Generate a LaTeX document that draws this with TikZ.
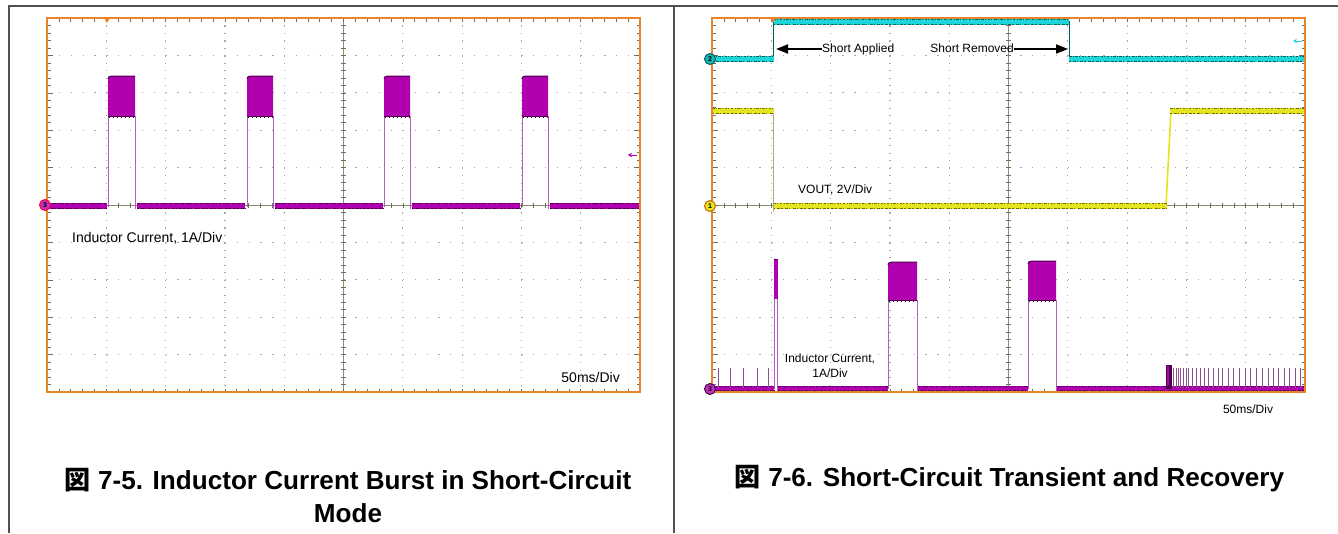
\documentclass[tikz,border=0pt]{standalone}
\usepackage{fontspec}
\setmainfont{Liberation Sans}
\newfontfamily\cjk{Noto Sans CJK JP}
\usetikzlibrary{arrows.meta}
\definecolor{gridc}{HTML}{A8A8A8}
\definecolor{tickc}{HTML}{6E6E5A}
\definecolor{ctrc}{HTML}{8C8C78}
\definecolor{scopeor}{HTML}{E8852A}
\definecolor{framec}{HTML}{505050}
\definecolor{magf}{HTML}{B000B0}
\definecolor{magd}{HTML}{4A004A}
\definecolor{mage}{HTML}{B060B8}
\definecolor{cyanf}{HTML}{1ED6D8}
\definecolor{cyand}{HTML}{005E60}
\definecolor{yelf}{HTML}{E4E420}
\definecolor{yeld}{HTML}{6E6E00}
\definecolor{yele}{HTML}{B0A878}
\tikzset{
  griddotv/.style={draw=gridc, line width=1.2pt, dash pattern=on 1.1pt off 6.38pt},
  griddoth/.style={draw=gridc, line width=1.2pt, dash pattern=on 1.2pt off 10.66pt},
  tk/.style={draw=tickc, line width=0.6pt},
  ctr/.style={draw=ctrc, line width=0.9pt},
  sborder/.style={draw=scopeor, line width=2pt},
  framel/.style={draw=framec, line width=1.3pt},
  magedge/.style={draw=mage, line width=0.8pt},
  lbl14/.style={inner sep=0pt, font=\fontsize{14}{16}\selectfont},
  lbl12/.style={inner sep=0pt, font=\fontsize{12}{15}\selectfont},
  capt/.style={inner sep=0pt, align=center, font=\fontsize{26.1}{33}\selectfont\bfseries},
  chm/.style={circle, inner sep=0pt, minimum size=11pt, line width=1pt, font=\fontsize{7}{7}\selectfont\bfseries},
  shortarrow/.style={draw=black, line width=1.8pt, -{Triangle[length=12pt,width=9pt]}},
}
% generic trace band: fill, dark, x1, x2, ytop, ybot
\newcommand\tband[6]{%
  \fill[#1] (#3,#5) rectangle (#4,#6);
  \draw[#2, line width=0.7pt, dash pattern=on 2.5pt off 1.2pt on 0.8pt off 1.8pt] (#3,#5+0.4) -- (#4,#5+0.4);
  \draw[#2, line width=0.7pt, dash pattern=on 1.5pt off 2.2pt on 3pt off 1pt] (#3,#6-0.4) -- (#4,#6-0.4);
}
% magenta pulse: a, b, top, band bottom, base
\newcommand\mpulse[5]{%
  \draw[magedge] (#1,#5) -- (#1,#4);
  \draw[magedge] (#2,#4) -- (#2,#5+2);
  \fill[magf] (#1,#4) -- (#1,#3+3) .. controls (#1+0.5,#3+0.5) .. (#1+5,#3) -- (#2,#3) -- (#2,#4) -- cycle;
  \draw[magd, line width=1pt] (#1,#3+3) .. controls (#1+0.5,#3+0.5) .. (#1+5,#3) -- (#2,#3);
  \draw[magd, line width=0.9pt] (#1,#4) -- (#2,#4);
  \draw[magd, line width=0.6pt, dash pattern=on 0.6pt off 3.4pt] (#1+1,#4+1.5) -- (#2,#4+1.5);
}
\newcommand\scopegrid{%
  \fill[white] (47,18) rectangle (640,392);
  \foreach \i in {1,2,3,4,6,7,8,9} {
    \draw[griddotv] ({47+\i*59.3},18) -- ({47+\i*59.3},392);
    \draw[griddoth] (47,{18+\i*37.4}) -- (640,{18+\i*37.4});
  }
  \draw[ctr] (343.5,18) -- (343.5,392);
  \draw[ctr] (47,205) -- (640,205);
  \foreach \k in {1,...,49} {
    \draw[tk] ({47+\k*11.86},18) -- ++(0,3.5);
    \draw[tk] ({47+\k*11.86},392) -- ++(0,-3.5);
    \draw[tk] ({47+\k*11.86},202.5) -- ++(0,5);
    \draw[tk] (47,{18+\k*7.48}) -- ++(3.5,0);
    \draw[tk] (640,{18+\k*7.48}) -- ++(-3.5,0);
    \draw[tk] (341,{18+\k*7.48}) -- ++(5,0);
  }
  \foreach \k in {1,...,9} {
    \draw[tk] (47,{18+\k*37.4}) -- ++(6,0);
    \draw[tk] (640,{18+\k*37.4}) -- ++(-6,0);
  }
}
\begin{document}
\begin{tikzpicture}[x=1pt,y=-1pt]
\useasboundingbox (0,0) rectangle (1338,533);
\fill[white] (0,0) rectangle (1338,533);
% table frame
\draw[framel] (9,533) -- (9,6) -- (1338,6);
\draw[framel] (674,6) -- (674,533);

% ===== left scope =====
\scopegrid
\foreach \a/\b in {47/107, 137/245, 275/383, 412/520, 550/640} {
  \tband{magf}{magd}{\a}{\b}{202.5}{208.5}
}
\foreach \a/\b in {108/135, 247/273, 384/410, 522/548} {
  \mpulse{\a}{\b}{76}{116}{207}
}
\draw[sborder] (47,18) rectangle (640,392);
\fill[scopeor] (103.5,17) -- (110.5,17) -- (107,23) -- cycle;
\draw[magf, line width=1pt, -{Stealth[length=4pt,width=4.5pt]}] (637,155) -- (628,155);
\node[chm, fill=magf!80!white, draw=red!80!magenta] (lm3) at (45,205) {3};
\node[lbl14, anchor=west] (lic) at (72,238) {Inductor Current, 1A/Div};
\node[lbl14, anchor=east] (lts) at (620,377) {50ms/Div};

% ===== right scope =====
\begin{scope}[shift={(665,0)}]
  \scopegrid
\end{scope}
% cyan trace
\draw[cyand, line width=0.8pt] (773.5,59) -- (773.5,21);
\draw[cyand, line width=0.8pt] (1069,21) -- (1069,59);
\tband{cyanf}{cyand}{712}{773.5}{56}{62}
\tband{cyanf}{cyand}{773.5}{1069}{19}{24.5}
\tband{cyanf}{cyand}{1069}{1305}{56}{62}
% yellow trace
\draw[yele, line width=1pt] (773.5,110) -- (773.5,212);
\draw[yelf, line width=1.6pt] (1166,206) -- (1171,110);
\tband{yelf}{yeld}{712}{773.5}{107.5}{113.5}
\tband{yelf}{yeld}{773.5}{1167}{202.5}{209}
\tband{yelf}{yeld}{1170}{1305}{108}{114}
% magenta trace
\foreach \a/\b in {712/774, 778/888, 917/1028, 1056/1305} {
  \tband{magf}{magd}{\a}{\b}{386}{391}
}
\draw[magedge] (774,389) -- (774,299);
\draw[magedge] (777.5,299) -- (777.5,391);
\fill[magf] (773.8,259) rectangle (777.6,299);
\draw[magd, line width=0.8pt] (773.8,259) -- (777.6,260);
\mpulse{888}{917}{262}{300}{389}
\mpulse{1028}{1056}{261}{300}{389}
\foreach \x in {718,730,743,757,768} {
  \draw[draw=mage!80!black, line width=0.8pt] (\x,388) -- (\x,368);
}
\fill[magd] (1166,365) rectangle (1171.5,389);
\fill[magf] (1166.5,366) rectangle (1169,386);
\foreach \x in {1173.3,1176,1178.3,1180.7,1183.3,1186,1188.7,1192,1196,1200,1204,1208.7,1213.3,1218,1222.7,1228,1233.3,1239.3,1245,1250.7,1256.7,1262.3,1268,1273.3,1278.7,1284,1289.3,1295,1300.7} {
  \draw[draw=mage!80!black, line width=0.8pt] (\x,388) -- (\x,368);
}
\draw[sborder] (712,18) rectangle (1305,392);
\fill[scopeor] (769.5,17) -- (776.5,17) -- (773,23) -- cycle;
\draw[cyanf, line width=1pt, -{Stealth[length=4pt,width=4.5pt]}] (1302,41) -- (1293,41);
\node[chm, fill=cyanf!85!black, draw=cyand] (rm2) at (710,59) {2};
\node[chm, fill=yelf, draw=orange!80!black] (rm1) at (710,206) {1};
\node[chm, fill=magf!80!white, draw=magd] (rm3) at (710,389) {3};
% labels and arrows
\node[lbl12, anchor=west] (sa) at (822,49) {Short Applied};
\node[lbl12, anchor=east] (sr) at (1014,48) {Short Removed};
\coordinate (saTip) at (776,49);
\coordinate (srTip) at (1068,49);
\draw[shortarrow] (sa.west) -- (saTip);
\draw[shortarrow] (sr.east |- srTip) -- (srTip);
\node[lbl12, anchor=west] (vout) at (798,190) {VOUT, 2V/Div};
\node[lbl12, align=center] (ric) at (830,366) {Inductor Current,\\1A/Div};
\node[lbl12] (rts) at (1248,409) {50ms/Div};

% captions
\node[capt] (cap1) at (348,495.5) {{\cjk 図} 7-5. Inductor Current Burst in Short-Circuit\\Mode};
\node[capt] (cap2) at (1009.5,479) {{\cjk 図} 7-6. Short-Circuit Transient and Recovery};
\end{tikzpicture}
\end{document}
